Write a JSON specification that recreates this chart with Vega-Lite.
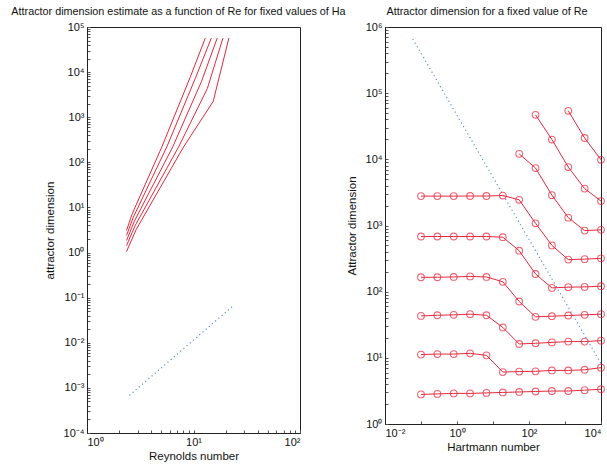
{
  "$schema": "https://vega.github.io/schema/vega-lite/v6.json",
  "padding": {"left": 10, "top": 5, "right": 0, "bottom": 5},
  "background": "white",
  "bounds": "flush",
  "spacing": 85,
  "config": {
    "font": "Liberation Sans",
    "view": {"stroke": "#222", "strokeWidth": 1},
    "axis": {"grid": false, "domainColor": "#222", "tickColor": "#555", "tickSize": -3, "labelPadding": 6, "labelFontSize": 11, "labelColor": "#111", "titleFontSize": 11.5, "titleFontWeight": "normal", "titleColor": "#111"},
    "title": {"fontSize": 10.8, "fontWeight": "normal", "color": "#111", "offset": 0, "frame": "group"}
  },
  "datasets": {
    "leftRed": [
      {"series": "L0", "re": 2.35, "dim": 3.10}, {"series": "L0", "re": 2.67, "dim": 7.42}, {"series": "L0", "re": 5.05, "dim": 221}, {"series": "L0", "re": 9.38, "dim": 8050}, {"series": "L0", "re": 12.9, "dim": 56800},
      {"series": "L1", "re": 2.35, "dim": 2.40}, {"series": "L1", "re": 2.72, "dim": 6.04}, {"series": "L1", "re": 5.62, "dim": 221}, {"series": "L1", "re": 10.4, "dim": 7280}, {"series": "L1", "re": 14.7, "dim": 56800},
      {"series": "L2", "re": 2.35, "dim": 1.85}, {"series": "L2", "re": 2.78, "dim": 4.92}, {"series": "L2", "re": 6.39, "dim": 221}, {"series": "L2", "re": 11.9, "dim": 6240}, {"series": "L2", "re": 16.7, "dim": 56800},
      {"series": "L3", "re": 2.35, "dim": 1.43}, {"series": "L3", "re": 2.84, "dim": 4.01}, {"series": "L3", "re": 7.26, "dim": 221}, {"series": "L3", "re": 13.5, "dim": 4350}, {"series": "L3", "re": 18.9, "dim": 56800},
      {"series": "L4", "re": 2.35, "dim": 1.05}, {"series": "L4", "re": 2.90, "dim": 3.26}, {"series": "L4", "re": 8.08, "dim": 221}, {"series": "L4", "re": 15.3, "dim": 2230}, {"series": "L4", "re": 21.5, "dim": 56800}
    ],
    "leftBlue": [
      {"re": 2.5, "dim": 0.00068}, {"re": 23.5, "dim": 0.0656}
    ],
    "rightRed": [
      {"series": "A", "ha": 0.1, "dim": 2.8}, {"series": "A", "ha": 0.2848, "dim": 2.85}, {"series": "A", "ha": 0.8111, "dim": 2.9}, {"series": "A", "ha": 2.31, "dim": 2.9}, {"series": "A", "ha": 6.579, "dim": 2.95}, {"series": "A", "ha": 18.74, "dim": 3.0}, {"series": "A", "ha": 53.37, "dim": 3.05}, {"series": "A", "ha": 152.0, "dim": 3.1}, {"series": "A", "ha": 432.9, "dim": 3.15}, {"series": "A", "ha": 1233, "dim": 3.15}, {"series": "A", "ha": 3511, "dim": 3.25}, {"series": "A", "ha": 10000, "dim": 3.35},
      {"series": "B", "ha": 0.1, "dim": 11.2}, {"series": "B", "ha": 0.2848, "dim": 11.4}, {"series": "B", "ha": 0.8111, "dim": 11.4}, {"series": "B", "ha": 2.31, "dim": 11.7}, {"series": "B", "ha": 6.579, "dim": 10.9}, {"series": "B", "ha": 18.74, "dim": 6.1}, {"series": "B", "ha": 53.37, "dim": 6.2}, {"series": "B", "ha": 152.0, "dim": 6.25}, {"series": "B", "ha": 432.9, "dim": 6.45}, {"series": "B", "ha": 1233, "dim": 6.45}, {"series": "B", "ha": 3511, "dim": 6.6}, {"series": "B", "ha": 10000, "dim": 7.1},
      {"series": "C", "ha": 0.1, "dim": 43}, {"series": "C", "ha": 0.2848, "dim": 44}, {"series": "C", "ha": 0.8111, "dim": 44.6}, {"series": "C", "ha": 2.31, "dim": 45.7}, {"series": "C", "ha": 6.579, "dim": 44}, {"series": "C", "ha": 18.74, "dim": 28.8}, {"series": "C", "ha": 53.37, "dim": 16.2}, {"series": "C", "ha": 152.0, "dim": 16.6}, {"series": "C", "ha": 432.9, "dim": 17.1}, {"series": "C", "ha": 1233, "dim": 17.6}, {"series": "C", "ha": 3511, "dim": 17.6}, {"series": "C", "ha": 10000, "dim": 18.2},
      {"series": "D", "ha": 0.1, "dim": 165}, {"series": "D", "ha": 0.2848, "dim": 165}, {"series": "D", "ha": 0.8111, "dim": 167}, {"series": "D", "ha": 2.31, "dim": 170}, {"series": "D", "ha": 6.579, "dim": 167}, {"series": "D", "ha": 18.74, "dim": 141}, {"series": "D", "ha": 53.37, "dim": 71}, {"series": "D", "ha": 152.0, "dim": 41.6}, {"series": "D", "ha": 432.9, "dim": 42.6}, {"series": "D", "ha": 1233, "dim": 43.6}, {"series": "D", "ha": 3511, "dim": 44.6}, {"series": "D", "ha": 10000, "dim": 45.7},
      {"series": "E", "ha": 0.1, "dim": 682}, {"series": "E", "ha": 0.2848, "dim": 682}, {"series": "E", "ha": 0.8111, "dim": 682}, {"series": "E", "ha": 2.31, "dim": 682}, {"series": "E", "ha": 6.579, "dim": 682}, {"series": "E", "ha": 18.74, "dim": 666}, {"series": "E", "ha": 53.37, "dim": 416}, {"series": "E", "ha": 152.0, "dim": 185}, {"series": "E", "ha": 432.9, "dim": 114}, {"series": "E", "ha": 1233, "dim": 117}, {"series": "E", "ha": 3511, "dim": 118}, {"series": "E", "ha": 10000, "dim": 121},
      {"series": "F", "ha": 0.1, "dim": 2780}, {"series": "F", "ha": 0.2848, "dim": 2780}, {"series": "F", "ha": 0.8111, "dim": 2780}, {"series": "F", "ha": 2.31, "dim": 2790}, {"series": "F", "ha": 6.579, "dim": 2790}, {"series": "F", "ha": 18.74, "dim": 2837}, {"series": "F", "ha": 53.37, "dim": 2445}, {"series": "F", "ha": 152.0, "dim": 1079}, {"series": "F", "ha": 432.9, "dim": 500}, {"series": "F", "ha": 1233, "dim": 305}, {"series": "F", "ha": 3511, "dim": 310}, {"series": "F", "ha": 10000, "dim": 319},
      {"series": "G", "ha": 53.37, "dim": 12100}, {"series": "G", "ha": 152.0, "dim": 7380}, {"series": "G", "ha": 432.9, "dim": 2877}, {"series": "G", "ha": 1233, "dim": 1313}, {"series": "G", "ha": 3511, "dim": 838}, {"series": "G", "ha": 10000, "dim": 859},
      {"series": "H", "ha": 152.0, "dim": 47100}, {"series": "H", "ha": 432.9, "dim": 19900}, {"series": "H", "ha": 1233, "dim": 7640}, {"series": "H", "ha": 3511, "dim": 3610}, {"series": "H", "ha": 10000, "dim": 2340},
      {"series": "I", "ha": 1233, "dim": 54100}, {"series": "I", "ha": 3511, "dim": 21000}, {"series": "I", "ha": 10000, "dim": 9840}
    ],
    "rightBlue": [
      {"ha": 0.059, "dim": 660000}, {"ha": 10000, "dim": 8.2}
    ]
  },
  "hconcat": [
    {
      "width": 213,
      "height": 406,
      "title": {"text": "Attractor dimension estimate as a function of Re for fixed values of Ha", "dx": -15},
      "layer": [
        {
          "data": {"name": "leftRed"},
          "mark": {"type": "line", "color": "#e8283c", "strokeWidth": 1},
          "encoding": {
            "x": {"field": "re", "type": "quantitative", "title": "Reynolds number",
              "scale": {"type": "log", "domain": [1, 100]},
              "axis": {"titlePadding": 3, "values": [1,2,3,4,5,6,7,8,9,10,20,30,40,50,60,70,80,90,100],
                "labelExpr": "abs(log(datum.value)/LN10 - round(log(datum.value)/LN10)) < 1e-6 ? '10' + (round(log(datum.value)/LN10) < 0 ? '⁻' : '') + ['⁰','¹','²','³','⁴','⁵','⁶','⁷','⁸','⁹'][abs(round(log(datum.value)/LN10))] : ''"}},
            "y": {"field": "dim", "type": "quantitative", "title": "attractor dimension",
              "scale": {"type": "log", "domain": [0.0001, 100000]},
              "axis": {"titlePadding": 8, "values": [0.0001,0.0002,0.0003,0.0004,0.0005,0.0006,0.0007,0.0008,0.0009,0.001,0.002,0.003,0.004,0.005,0.006,0.007,0.008,0.009,0.01,0.02,0.03,0.04,0.05,0.06,0.07,0.08,0.09,0.1,0.2,0.3,0.4,0.5,0.6,0.7,0.8,0.9,1,2,3,4,5,6,7,8,9,10,20,30,40,50,60,70,80,90,100,200,300,400,500,600,700,800,900,1000,2000,3000,4000,5000,6000,7000,8000,9000,10000,20000,30000,40000,50000,60000,70000,80000,90000,100000],
                "labelExpr": "abs(log(datum.value)/LN10 - round(log(datum.value)/LN10)) < 1e-6 ? '10' + (round(log(datum.value)/LN10) < 0 ? '⁻' : '') + ['⁰','¹','²','³','⁴','⁵','⁶','⁷','⁸','⁹'][abs(round(log(datum.value)/LN10))] : ''"}},
            "detail": {"field": "series", "type": "nominal"}
          }
        },
        {
          "data": {"name": "leftBlue"},
          "mark": {"type": "line", "color": "#5d8fe3", "strokeWidth": 1.2, "strokeDash": [1.2, 3]},
          "encoding": {
            "x": {"field": "re", "type": "quantitative"},
            "y": {"field": "dim", "type": "quantitative"}
          }
        }
      ]
    },
    {
      "width": 216,
      "height": 397,
      "title": {"text": "Attractor dimension for a fixed value of Re", "dx": -6},
      "layer": [
        {
          "data": {"name": "rightBlue"},
          "mark": {"type": "line", "color": "#5d8fe3", "strokeWidth": 1.2, "strokeDash": [1.2, 3]},
          "encoding": {
            "x": {"field": "ha", "type": "quantitative", "title": "Hartmann number",
              "scale": {"type": "log", "domain": [0.01, 10000]},
              "axis": {"titlePadding": 3, "values": [0.01,0.1,1,10,100,1000,10000],
                "labelExpr": "abs(round(log(datum.value)/LN10)) % 2 == 0 ? '10' + (round(log(datum.value)/LN10) < 0 ? '⁻' : '') + ['⁰','¹','²','³','⁴','⁵','⁶','⁷','⁸','⁹'][abs(round(log(datum.value)/LN10))] : ''"}},
            "y": {"field": "dim", "type": "quantitative", "title": "Attractor dimension",
              "scale": {"type": "log", "domain": [1, 1000000]},
              "axis": {"titlePadding": 8, "values": [1,2,3,4,5,6,7,8,9,10,20,30,40,50,60,70,80,90,100,200,300,400,500,600,700,800,900,1000,2000,3000,4000,5000,6000,7000,8000,9000,10000,20000,30000,40000,50000,60000,70000,80000,90000,100000,200000,300000,400000,500000,600000,700000,800000,900000,1000000],
                "labelExpr": "abs(log(datum.value)/LN10 - round(log(datum.value)/LN10)) < 1e-6 ? '10' + ['⁰','¹','²','³','⁴','⁵','⁶','⁷','⁸','⁹'][abs(round(log(datum.value)/LN10))] : ''"}}
          }
        },
        {
          "data": {"name": "rightRed"},
          "mark": {"type": "line", "color": "#e8283c", "strokeWidth": 1},
          "encoding": {
            "x": {"field": "ha", "type": "quantitative"},
            "y": {"field": "dim", "type": "quantitative"},
            "detail": {"field": "series", "type": "nominal"}
          }
        },
        {
          "data": {"name": "rightRed"},
          "mark": {"type": "point", "shape": "circle", "filled": false, "color": "#e8283c", "size": 45, "strokeWidth": 1.1},
          "encoding": {
            "x": {"field": "ha", "type": "quantitative"},
            "y": {"field": "dim", "type": "quantitative"}
          }
        }
      ]
    }
  ]
}
